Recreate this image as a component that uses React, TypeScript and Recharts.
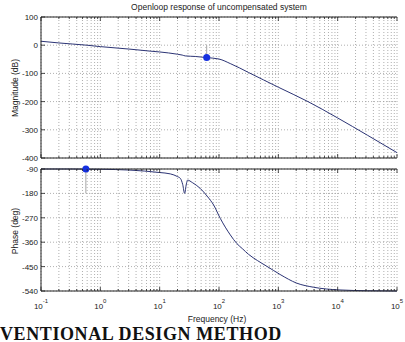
import React from "react";
import {
  ComposedChart,
  Line,
  XAxis,
  YAxis,
  CartesianGrid,
  ReferenceDot,
  ReferenceLine,
} from "recharts";

// Open-loop magnitude of the uncompensated plant
const magFreq = [
  0.1, 0.2, 0.59, 1, 3.16, 6.9, 10, 20, 24, 27, 40, 62, 100, 158, 224, 316,
  562, 1000, 3162, 10000, 31623, 100000,
];
const magDb = [
  14, 8, 0, -5, -14, -21, -24, -32, -35, -38, -40, -44, -49, -66, -81, -97,
  -123, -149, -200, -258, -319, -381,
];

// Open-loop phase (note the notch near 26 Hz)
const phaseFreq = [
  0.1, 0.32, 1, 3.16, 10, 15.1, 20, 22.4, 24.5, 26.3, 28.2, 29.5, 35.5, 47.9,
  63.1, 81.3, 105, 155, 200, 251, 316, 447, 631, 1070, 2040, 3890, 10500,
  31600, 100000,
];
const phaseDeg = [
  -90, -90, -91, -94, -103, -108, -118, -125, -148, -180, -145, -131, -140,
  -161, -190, -223, -272, -333, -365, -385, -405, -428, -448, -479, -511, -526,
  -536, -539, -540,
];

const decades = [0.1, 1, 10, 100, 1000, 10000, 100000];
const magTicks = [100, 0, -100, -200, -300, -400];
const phaseTicks = [-90, -180, -270, -360, -450, -540];

// gain / phase margin markers
const gmFreq = 62;
const gmDb = -44;
const pmFreq = 0.57;
const pmDeg = -90;

const magData = magFreq.map((f, i) => ({ f, db: magDb[i] }));
const phaseData = phaseFreq.map((f, i) => ({ f, deg: phaseDeg[i] }));

// 1..9 x each decade, for the log grid and minor ticks
const freqTicks = decades.flatMap((d, i) =>
  i === decades.length - 1
    ? [d]
    : [1, 2, 3, 4, 5, 6, 7, 8, 9].map((m) => +(m * d).toPrecision(6))
);

const LINE = "#2c3475";
const DOT = "#1530e0";
const AXIS = "#222";
const FONT = "'Liberation Sans', Arial, sans-serif";

const isDecade = (v: number) =>
  Math.abs(Math.log10(v) - Math.round(Math.log10(v))) < 1e-6;

// inward tick on a frequency axis, with a 10^n label on decades when asked
const renderFreqTick = (side: "top" | "bottom", showLabel: boolean) => (props: any) => {
  const { x, y, payload } = props;
  const v = Number(payload.value);
  const major = isDecade(v);
  const len = major ? 4 : 2;
  const dir = side === "top" ? 1 : -1;
  return (
    <g key={`ft-${side}-${v}`}>
      <line x1={x} x2={x} y1={y} y2={y + dir * len} stroke={AXIS} strokeWidth={0.8} />
      {showLabel && major && (
        <text x={x} y={y + 18} textAnchor="middle" fontSize={8} fill={AXIS} fontFamily={FONT}>
          10
          <tspan dy={-6} fontSize={6}>
            {Math.round(Math.log10(v))}
          </tspan>
        </text>
      )}
    </g>
  );
};

const renderValueTick = (side: "left" | "right") => (props: any) => {
  const { x, y, payload } = props;
  const dir = side === "left" ? 1 : -1;
  return (
    <g key={`vt-${side}-${payload.value}`}>
      <line x1={x} x2={x + dir * 4} y1={y} y2={y} stroke={AXIS} strokeWidth={0.8} />
      {side === "left" && (
        <text x={x - 3} y={y + 3} textAnchor="end" fontSize={8} fill={AXIS} fontFamily={FONT}>
          {payload.value}
        </text>
      )}
    </g>
  );
};

const axisLine = { stroke: AXIS, strokeWidth: 1 };
const gridStroke = "#9a9a9a";

export default function App() {
  return (
    <div
      style={{
        position: "absolute",
        left: 0,
        top: 0,
        width: 405,
        height: 342,
        overflow: "hidden",
        background: "#fff",
      }}
    >
      {/* magnitude panel */}
      <div style={{ position: "absolute", left: 0, top: 0 }}>
        <ComposedChart
          width={405}
          height={162}
          data={magData}
          margin={{ top: 16, right: 8, bottom: 0, left: 0 }}
        >
          <CartesianGrid stroke={gridStroke} strokeDasharray="1 2" strokeWidth={0.8} />
          <XAxis
            dataKey="f"
            type="number"
            scale="log"
            domain={[0.1, 100000]}
            ticks={freqTicks}
            interval={0}
            height={4}
            tickSize={0}
            tickMargin={0}
            axisLine={axisLine}
            tick={renderFreqTick("bottom", false)}
          />
          <XAxis
            xAxisId="t"
            orientation="top"
            dataKey="f"
            type="number"
            scale="log"
            domain={[0.1, 100000]}
            ticks={freqTicks}
            interval={0}
            height={1}
            tickSize={0}
            tickMargin={0}
            axisLine={axisLine}
            tick={renderFreqTick("top", false)}
          />
          <YAxis
            type="number"
            domain={[-400, 100]}
            ticks={magTicks}
            interval={0}
            width={41}
            tickSize={0}
            tickMargin={0}
            axisLine={axisLine}
            tick={renderValueTick("left")}
          />
          <YAxis
            yAxisId="r"
            orientation="right"
            type="number"
            domain={[-400, 100]}
            ticks={magTicks}
            interval={0}
            width={0}
            tickSize={0}
            tickMargin={0}
            axisLine={axisLine}
            tick={renderValueTick("right")}
          />
          <ReferenceLine
            segment={[
              { x: gmFreq, y: 0 },
              { x: gmFreq, y: gmDb },
            ]}
            stroke="#a8a8a8"
            strokeWidth={1}
            ifOverflow="visible"
          />
          <Line
            type="monotone"
            dataKey="db"
            stroke={LINE}
            strokeWidth={1}
            dot={false}
            isAnimationActive={false}
          />
          <ReferenceDot x={gmFreq} y={gmDb} r={3.5} fill={DOT} stroke="none" ifOverflow="visible" />
        </ComposedChart>
      </div>

      {/* phase panel */}
      <div style={{ position: "absolute", left: 0, top: 160 }}>
        <ComposedChart
          width={405}
          height={182}
          data={phaseData}
          margin={{ top: 8, right: 8, bottom: 21, left: 0 }}
        >
          <CartesianGrid stroke={gridStroke} strokeDasharray="1 2" strokeWidth={0.8} />
          <XAxis
            dataKey="f"
            type="number"
            scale="log"
            domain={[0.1, 100000]}
            ticks={freqTicks}
            interval={0}
            height={30}
            tickSize={0}
            tickMargin={0}
            axisLine={axisLine}
            tick={renderFreqTick("bottom", true)}
          />
          <XAxis
            xAxisId="t"
            orientation="top"
            dataKey="f"
            type="number"
            scale="log"
            domain={[0.1, 100000]}
            ticks={freqTicks}
            interval={0}
            height={1}
            tickSize={0}
            tickMargin={0}
            axisLine={axisLine}
            tick={renderFreqTick("top", false)}
          />
          <YAxis
            type="number"
            domain={[-540, -90]}
            ticks={phaseTicks}
            interval={0}
            width={41}
            tickSize={0}
            tickMargin={0}
            axisLine={axisLine}
            tick={renderValueTick("left")}
          />
          <YAxis
            yAxisId="r"
            orientation="right"
            type="number"
            domain={[-540, -90]}
            ticks={phaseTicks}
            interval={0}
            width={0}
            tickSize={0}
            tickMargin={0}
            axisLine={axisLine}
            tick={renderValueTick("right")}
          />
          <ReferenceLine
            segment={[
              { x: pmFreq, y: -180 },
              { x: pmFreq, y: pmDeg },
            ]}
            stroke="#a8a8a8"
            strokeWidth={1}
            ifOverflow="visible"
          />
          <Line
            type="monotone"
            dataKey="deg"
            stroke={LINE}
            strokeWidth={1}
            dot={false}
            isAnimationActive={false}
          />
          <ReferenceDot x={pmFreq} y={pmDeg} r={3.5} fill={DOT} stroke="none" ifOverflow="visible" />
        </ComposedChart>
      </div>

      {/* titles and axis labels */}
      <svg
        width={405}
        height={342}
        style={{ position: "absolute", left: 0, top: 0, pointerEvents: "none" }}
      >
        <g fontFamily={FONT} fill="#222" fontSize={8.5}>
          <text x={219} y={9.5} textAnchor="middle">
            Openloop response of uncompensated system
          </text>
          <text x={217} y={322} textAnchor="middle">
            Frequency (Hz)
          </text>
          <text
            x={15}
            y={88}
            textAnchor="middle"
            dominantBaseline="central"
            transform="rotate(-90 15 88)"
          >
            Magnitude (dB)
          </text>
          <text
            x={15}
            y={231}
            textAnchor="middle"
            dominantBaseline="central"
            transform="rotate(-90 15 231)"
          >
            Phase (deg)
          </text>
        </g>
        <text
          x={0}
          y={340}
          fontFamily="'Liberation Serif', 'Times New Roman', serif"
          fontWeight="bold"
          fontSize={18}
          letterSpacing={0.6}
          fill="#111"
        >
          VENTIONAL DESIGN METHOD
        </text>
      </svg>
    </div>
  );
}
